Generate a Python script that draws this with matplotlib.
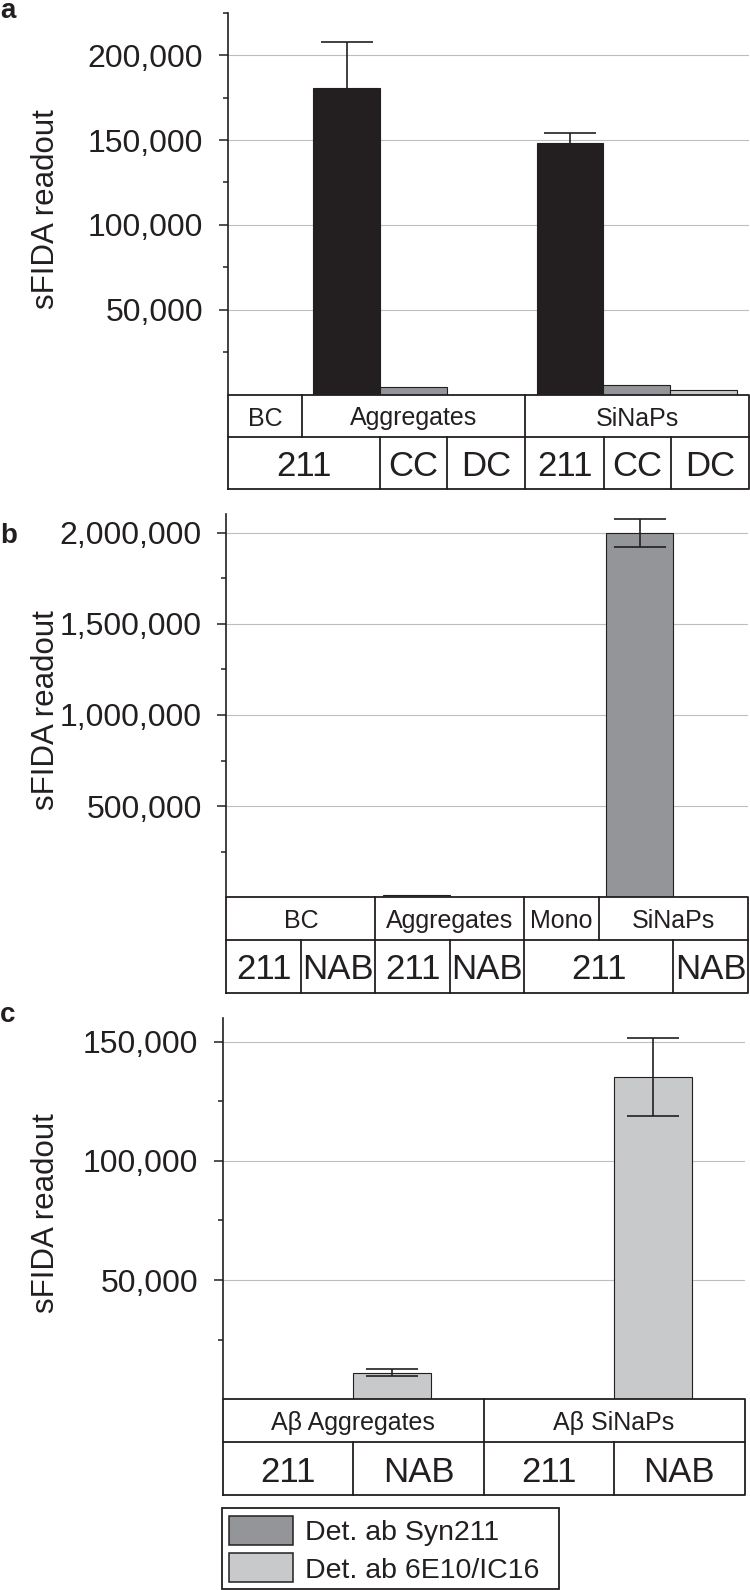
import numpy as np
import matplotlib
matplotlib.use("Agg")
import matplotlib.pyplot as plt
from matplotlib.patches import Rectangle
from matplotlib.ticker import FixedLocator, FuncFormatter

plt.rcParams['font.family'] = ['Liberation Sans', 'DejaVu Sans']

# ---- data ----
# a: 211 / CC / DC for Aggregates and SiNaPs (BC has no signal)
a_top = ["BC", "Aggregates", "SiNaPs"]
a_bottom = ["211", "CC", "DC", "211", "CC", "DC"]
a_values = [180700, 4700, 0, 148100, 5500, 2900]
a_errors = [27100, 0, 0, 5900, 0, 0]
a_yticks = [50000, 100000, 150000, 200000]

# b: BC / Aggregates / Mono / SiNaPs with 211 or NAB
b_top = ["BC", "Aggregates", "Mono", "SiNaPs"]
b_bottom = ["211", "NAB", "211", "NAB", "211", "NAB"]
b_values = [0, 0, 11000, 0, 0, 1996000, 0]
b_errors = [0, 0, 0, 0, 0, 78000, 0]
b_yticks = [500000, 1000000, 1500000, 2000000]

# c: Abeta aggregates / SiNaPs
c_top = ["Aβ Aggregates", "Aβ SiNaPs"]
c_bottom = ["211", "NAB", "211", "NAB"]
c_values = [0, 11200, 0, 135000]
c_errors = [0, 1300, 0, 16300]
c_yticks = [50000, 100000, 150000]

legend_labels = ["Det. ab Syn211", "Det. ab 6E10/IC16"]

# ---- styles ----
INK = '#231f20'
DARK = '#939598'
LIGHT = '#c8c9cb'
GRID = '#bcbec0'
W, H = 750, 1590


def rect(x0, y0, x1, y1):
    return [x0 / W, 1 - y1 / H, (x1 - x0) / W, (y1 - y0) / H]


fmt = FuncFormatter(lambda v, p: f"{v:,.0f}")

panels = [
    dict(letter='a', box=(227.7, 12.7, 748.6, 394.7), mid=437.3, tbot=489.3,
         ymax=225000, minor=25000, nslots=7, yticks=a_yticks,
         values=a_values, errors=a_errors,
         lefts=[s + 0.15 - 0.1 * (i % 3) for i, s in enumerate(range(1, 7))], width=0.9,
         colors=[INK, DARK, LIGHT] * 2,
         top=a_top, top_edges=[0, 1, 4, 7],
         bottom=a_bottom, bottom_edges=[0, 2.05, 2.95, 4, 5.06, 5.96, 7],
         ylab_y=209.5, letter_y=18.3),
    dict(letter='b', box=(226.3, 514.3, 748.0, 897.3), mid=940.0, tbot=992.7,
         ymax=2100000, minor=250000, nslots=7, yticks=b_yticks,
         values=b_values, errors=b_errors,
         lefts=[s + 0.1 for s in range(7)], width=0.9,
         colors=[DARK] * 7,
         top=b_top, top_edges=[0, 2, 4, 5, 7],
         bottom=b_bottom, bottom_edges=[0, 1, 2, 3, 4, 6, 7],
         ylab_y=710, letter_y=543.3),
    dict(letter='c', box=(222.7, 1017.7, 744.5, 1399.3), mid=1442.0, tbot=1495.0,
         ymax=160000, minor=25000, nslots=4, yticks=c_yticks,
         values=c_values, errors=c_errors,
         lefts=[float(s) for s in range(4)], width=0.6,
         colors=[LIGHT] * 4,
         top=c_top, top_edges=[0, 2, 4],
         bottom=c_bottom, bottom_edges=[0, 1, 2, 3, 4],
         ylab_y=1213, letter_y=1022.5),
]

fig = plt.figure(figsize=(W / 100, H / 100), dpi=100)

for p in panels:
    x0, y0, x1, y1 = p['box']
    ax = fig.add_axes(rect(x0, y0, x1, y1))
    ax.set_xlim(0, p['nslots'])
    ax.set_ylim(0, p['ymax'])

    lefts = np.array(p['lefts'])
    vals = np.array(p['values'])
    errs = np.array(p['errors'])
    ax.bar(lefts, vals, p['width'], align='edge', color=p['colors'],
           edgecolor=INK, linewidth=0.8, zorder=2)
    m = errs > 0
    ax.errorbar(lefts[m] + p['width'] / 2, vals[m], yerr=errs[m], fmt='none',
                ecolor=INK, elinewidth=1.2, capsize=18.7, capthick=1.2, zorder=3)

    ax.yaxis.set_major_locator(FixedLocator(p['yticks']))
    ax.yaxis.set_minor_locator(FixedLocator(np.arange(p['minor'], p['ymax'] + 1, 2 * p['minor'])))
    ax.yaxis.set_major_formatter(fmt)
    ax.tick_params(axis='y', which='major', length=6.7, width=1.1, color=INK,
                   labelsize=23, pad=11, labelcolor=INK)
    ax.tick_params(axis='y', which='minor', length=3.6, width=1.1, color=INK)
    ax.set_xticks([])
    ax.grid(axis='y', which='major', color=GRID, linewidth=0.8, zorder=0)
    ax.set_axisbelow(True)
    for s in ['top', 'right', 'bottom']:
        ax.spines[s].set_visible(False)
    ax.spines['left'].set_color(INK)
    ax.spines['left'].set_linewidth(1.2)

    ax.set_ylabel("sFIDA readout", fontsize=22.5, color=INK)
    ax.yaxis.set_label_coords(61.5 / W, 1 - p['ylab_y'] / H, transform=fig.transFigure)

    fig.text(0.0, 1 - p['letter_y'] / H, p['letter'], fontsize=20, fontweight='bold',
             ha='left', va='baseline', color=INK)

    # category table under the bars
    tb = p['tbot']
    ta = fig.add_axes(rect(x0, y1, x1, tb))
    ta.set_xlim(0, p['nslots'])
    ta.set_ylim(0, 1)
    ta.axis('off')
    midf = (tb - p['mid']) / (tb - y1)
    n = p['nslots']
    kw = dict(color=INK, linewidth=1.3, clip_on=False, solid_capstyle='projecting')
    ta.plot([0, n, n, 0, 0], [0, 0, 1, 1, 0], **kw)
    ta.plot([0, n], [midf, midf], **kw)
    for e in p['top_edges'][1:-1]:
        ta.plot([e, e], [midf, 1], **kw)
    for e in p['bottom_edges'][1:-1]:
        ta.plot([e, e], [0, midf], **kw)
    te = p['top_edges']
    for i, lab in enumerate(p['top']):
        ta.text((te[i] + te[i + 1]) / 2, (midf + 1) / 2, lab, fontsize=18,
                ha='center', va='center_baseline', color=INK)
    be = p['bottom_edges']
    for i, lab in enumerate(p['bottom']):
        ta.text((be[i] + be[i + 1]) / 2, midf / 2, lab, fontsize=25,
                ha='center', va='center_baseline', color=INK)

# legend box
lg = fig.add_axes(rect(221.7, 1508.3, 559.3, 1589.3))
lg.set_xlim(0, 1)
lg.set_ylim(0, 1)
lg.axis('off')
lg.add_patch(Rectangle((0, 0), 1, 1, facecolor='white', edgecolor=INK,
                       linewidth=1.3, clip_on=False))
for lab, col, (yb, yt) in zip(legend_labels, [DARK, LIGHT], [(0.547, 0.909), (0.086, 0.452)]):
    lg.add_patch(Rectangle((0.0216, yb), 0.19, yt - yb, facecolor=col,
                           edgecolor=INK, linewidth=1.1))
    lg.text(0.247, (yb + yt) / 2, lab, fontsize=20.5, ha='left',
            va='center_baseline', color=INK)

fig.savefig("out.png", dpi=100)
